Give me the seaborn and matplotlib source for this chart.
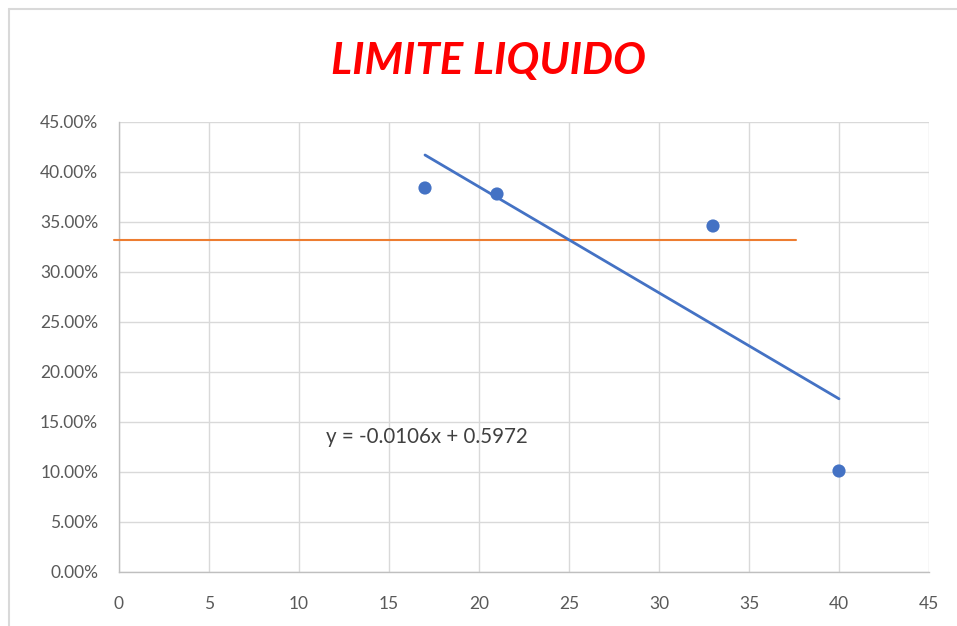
import matplotlib
matplotlib.use("Agg")
import matplotlib.pyplot as plt
import matplotlib.lines as mlines
import numpy as np
import pandas as pd
import seaborn as sns

# Data
golpes = [17, 21, 33, 40]
humedad = [0.384, 0.378, 0.346, 0.101]
trend_slope = -0.0106
trend_intercept = 0.5972
trend_x = [17, 40]
ll_x = [-0.3, 37.6]
ll_y = [0.332, 0.332]
x_ticks = [0, 5, 10, 15, 20, 25, 30, 35, 40, 45]
y_ticks = [0.0, 0.05, 0.10, 0.15, 0.20, 0.25, 0.30, 0.35, 0.40, 0.45]
title = "LIMITE LIQUIDO"
eq_label = "y = -0.0106x + 0.5972"

sns.set_style("white")
plt.rcParams['font.family'] = ['Lato', 'DejaVu Sans']

fig = plt.figure(figsize=(9.57, 6.26), dpi=100)
ax = fig.add_axes([119/957, 1-572/626, (929-119)/957, (572-122)/626])

grid_c = "#d9d9d9"
for t in x_ticks:
    ax.axvline(t, color=grid_c, lw=1.0, zorder=0)
for t in y_ticks:
    ax.axhline(t, color=grid_c, lw=1.0, zorder=0)

df = pd.DataFrame({"x": golpes, "y": humedad})
tx = np.array(trend_x, dtype=float)
tdf = pd.DataFrame({"x": tx, "y": trend_slope * tx + trend_intercept})
ldf = pd.DataFrame({"x": ll_x, "y": ll_y})

sns.lineplot(data=ldf, x="x", y="y", ax=ax, color="#ED7D31", lw=1.5, zorder=3, clip_on=False)
sns.lineplot(data=tdf, x="x", y="y", ax=ax, color="#4472C4", lw=2.0, zorder=4)
sns.scatterplot(data=df, x="x", y="y", ax=ax, color="#4472C4", s=90, edgecolor="none", zorder=5)

ax.set_xlim(0, 45)
ax.set_ylim(0, 0.45)
ax.set_xticks(x_ticks)
ax.set_yticks(y_ticks)
ax.set_yticklabels([f"{v*100:.2f}%" for v in y_ticks])
ax.set_xlabel("")
ax.set_ylabel("")
ax.tick_params(axis='both', labelsize=12.5, labelcolor="#595959", length=0)
ax.tick_params(axis='x', pad=17)
ax.tick_params(axis='y', pad=15)
for s in ["top", "right"]:
    ax.spines[s].set_visible(False)
for s in ["left", "bottom"]:
    ax.spines[s].set_color("#bfbfbf")
    ax.spines[s].set_linewidth(1.0)

ax.text(11.5, 0.135, eq_label, fontsize=14.8, color="#404040", ha="left", va="center", zorder=6)

fig.text(488/957, 1-61/626, title, fontsize=31.5, color="#FF0000", fontweight="bold",
         fontstyle="italic", ha="center", va="center")

# chart area border (partial)
fig.add_artist(mlines.Line2D([9/957, 1], [1-9/626, 1-9/626], color="#d9d9d9", lw=1.5, transform=fig.transFigure))
fig.add_artist(mlines.Line2D([9/957, 9/957], [0, 1-9/626], color="#d9d9d9", lw=1.5, transform=fig.transFigure))

fig.savefig("out.png", dpi=100)
